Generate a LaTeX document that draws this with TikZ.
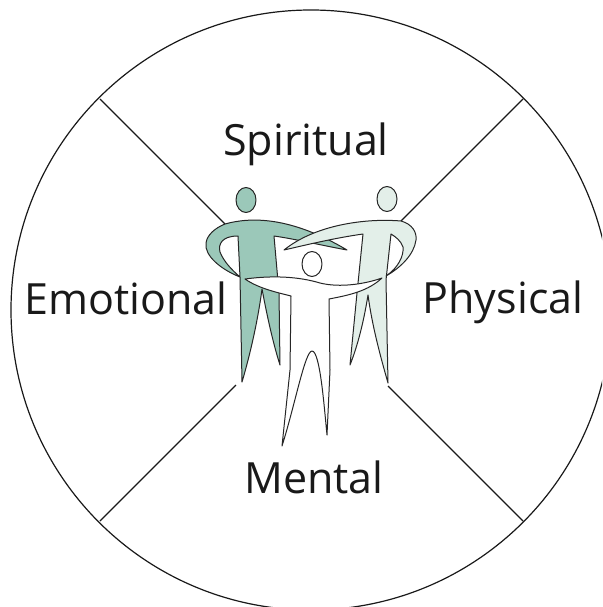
\documentclass[tikz,border=0pt]{standalone}
\usepackage{fontspec}
\setmainfont{Open Sans}
\definecolor{darkfig}{RGB}{155,200,185}
\definecolor{palefig}{RGB}{227,239,233}
\tikzset{
    label/.style={font=\fontsize{43}{43}\selectfont, text=black!90, inner sep=0pt, anchor=base},
    figline/.style={draw=black!85, line width=1pt, line join=round},
    spoke/.style={draw=black!90, line width=1.2pt}
}
\begin{document}
\begin{tikzpicture}[x=1pt,y=-1pt]
    \clip (0,0) rectangle (602,607);

    % outer circle
    \draw[spoke] (311,310) circle (300);

    % four spokes
    \draw[spoke] (100,99) -- (225,224);
    \draw[spoke] (523,99) -- (401,221);
    \draw[spoke] (100,521) -- (236,385);
    \draw[spoke] (523,521) -- (388,386);

    % left figure
    \draw[figline, fill=darkfig] (246,200) ellipse (10 and 12.5);
    \draw[figline, fill=darkfig] (225,224)
        .. controls (250,217) and (290,216) .. (347,250)
        .. controls (320,245) and (295,239) .. (274,236)
        -- (279,293) -- (280,365)
        .. controls (272,340) and (266,310) .. (262,289)
        .. controls (258,320) and (250,355) .. (242,382)
        -- (240,277) -- (238,236)
        .. controls (222,236) and (218,244) .. (220,252)
        .. controls (224,262) and (232,270) .. (240,277)
        .. controls (222,270) and (204,256) .. (206,243)
        .. controls (207,235) and (215,228) .. (225,224) -- cycle;

    % right figure
    \draw[figline, fill=palefig] (387,199) ellipse (10 and 12.5);
    \draw[figline, fill=palefig] (284,250)
        .. controls (315,225) and (365,218) .. (401,221)
        .. controls (412,224) and (417,232) .. (416,240)
        .. controls (414,255) and (400,268) .. (386,276)
        .. controls (398,268) and (404,256) .. (403,247)
        .. controls (401,241) and (396,237) .. (391,234)
        -- (386,280) -- (388,383)
        .. controls (380,355) and (372,325) .. (368,295)
        .. controls (364,320) and (358,345) .. (350,365)
        -- (357,293) -- (363,234)
        .. controls (335,238) and (310,244) .. (284,250) -- cycle;

    % middle figure
    \draw[figline, fill=white] (312,264) ellipse (10 and 12.5);
    \draw[figline, fill=white] (245,279)
        .. controls (275,275) and (300,277) .. (320,283)
        .. controls (340,288) and (365,284) .. (382,278)
        .. controls (368,291) and (350,295) .. (329,299)
        -- (330,370) -- (327,435)
        .. controls (324,405) and (320,351) .. (312,351)
        .. controls (305,351) and (295,405) .. (282,446)
        -- (290,370) -- (291,296)
        .. controls (275,292) and (258,288) .. (245,279) -- cycle;

    % labels
    \node[label] (spiritual) at (306,155) {Spiritual};
    \node[label] (emotional) at (126,314) {Emotional};
    \node[label] (physical) at (503,313) {Physical};
    \node[label] (mental) at (314,493) {Mental};
\end{tikzpicture}
\end{document}
